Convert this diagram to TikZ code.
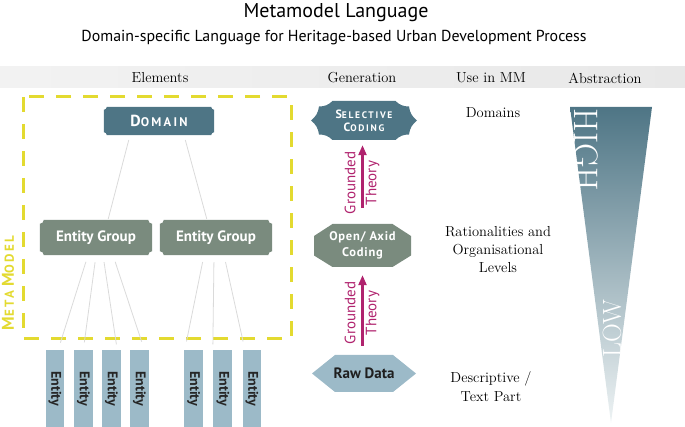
\documentclass[tikz,border=0pt]{standalone}
\usepackage{fontspec}
\newfontfamily\sansf{PT Sans}
\newfontfamily\sansls[LetterSpace=6]{PT Sans}
\newfontfamily\sanswide[LetterSpace=18]{PT Sans}
\usetikzlibrary{arrows.meta}
\definecolor{mmteal}{HTML}{4E7585}
\definecolor{mmgreen}{HTML}{7A8B7E}
\definecolor{mmblue}{HTML}{9CBAC8}
\definecolor{mmyellow}{HTML}{E3DA30}
\definecolor{mmmag}{HTML}{B0236E}
\definecolor{mmline}{HTML}{DADADA}
\definecolor{mmpale}{HTML}{EEF3F4}
\pgfdeclarelayer{background}
\pgfsetlayers{background,main}
\newcommand\fs[1]{\fontsize{#1}{#1}\selectfont}
\newcommand\notchfill[3]{%
  \begin{pgfonlayer}{background}
  \fill[#2] ([yshift=#3]#1.south west) arc[start angle=90,end angle=0,radius=#3]
    -- ([xshift=-#3]#1.south east) arc[start angle=180,end angle=90,radius=#3]
    -- ([yshift=-#3]#1.north east) arc[start angle=270,end angle=180,radius=#3]
    -- ([xshift=#3]#1.north west) arc[start angle=0,end angle=-90,radius=#3] -- cycle;
  \end{pgfonlayer}}
\tikzset{
  hdr/.style={font=\fs{14.5}},
  usetxt/.style={align=center, font=\fontsize{14.5}{18}\selectfont},
  egbox/.style={minimum width=112pt, minimum height=35pt, inner sep=0pt, text=white, font=\sansf\bfseries\fs{15}},
  entity/.style={rotate=-90, minimum width=76.5pt, minimum height=18.7pt, inner sep=0pt, fill=mmblue, text=black!85, font=\sansf\bfseries\fs{14}},
  tree/.style={draw=mmline, line width=0.8pt},
  gen/.style={-{Triangle[length=10pt,width=8pt]}, line width=2.2pt, draw=mmmag},
  glabel/.style={rotate=90, align=center, text=mmmag, font=\sansf\fontsize{15}{21}\selectfont},
}
\begin{document}
\begin{tikzpicture}[x=1pt,y=1pt]
\useasboundingbox (0,0) rectangle (685,427);
% titles
\node[font=\sansf\fs{20}] (title) at (336,414) {Metamodel Language};
\node[font=\sansf\fs{15.9}] (sub) at (334,389) {Domain-specific Language for Heritage-based Urban Development Process};
% header band
\fill[left color=black!5, right color=black!9] (0,339) rectangle (685,360);
\node[hdr] (h1) at (160,349) {Elements};
\node[hdr] (h2) at (362,349) {Generation};
\node[hdr] (h3) at (491,349) {Use in MM};
\node[hdr] (h4) at (605,349) {Abstraction};
% meta model frame
\draw[mmyellow, line width=3pt, dash pattern=on 15pt off 12pt] (23,330) rectangle (291,88);
\node[rotate=90, text=mmyellow, font=\sanswide\bfseries] (mm) at (8,144)
  {{\fs{17}M}{\fs{13}ETA} {\fs{17}M}{\fs{13}ODEL}};
% domain
\node[minimum width=110pt, minimum height=28pt, inner sep=0pt, text=white, font=\sanswide\bfseries] (dom) at (159,306)
  {{\fs{16}D}{\fs{12.5}OMAIN}};
\notchfill{dom}{mmteal}{3pt}
% entity groups
\node[egbox] (eg1) at (96,189.5) {Entity Group};
\node[egbox] (eg2) at (216,189.5) {Entity Group};
\notchfill{eg1}{mmgreen}{4pt}
\notchfill{eg2}{mmgreen}{4pt}
\draw[tree, shorten <=5pt, shorten >=1pt] ([xshift=-29pt]dom.south) -- ([xshift=12pt]eg1.north);
\draw[tree, shorten <=5pt, shorten >=1pt] ([xshift=25pt]dom.south) -- ([xshift=-9pt]eg2.north);
% entities
\node[entity] (e1) at (55,38.25) {Entity};
\node[entity] (e2) at (83.3,38.25) {Entity};
\node[entity] (e3) at (111.3,38.25) {Entity};
\node[entity] (e4) at (139.5,38.25) {Entity};
\node[entity] (e5) at (193.7,38.25) {Entity};
\node[entity] (e6) at (222.8,38.25) {Entity};
\node[entity] (e7) at (252,38.25) {Entity};
\draw[tree, shorten <=7pt, shorten >=8pt] ([xshift=-8pt]eg1.south) -- ([xshift=3pt]e1.west);
\draw[tree, shorten <=7pt, shorten >=8pt] ([xshift=0pt]eg1.south) -- ([xshift=0pt]e2.west);
\draw[tree, shorten <=7pt, shorten >=6pt] ([xshift=7pt]eg1.south) -- ([xshift=6pt]e3.west);
\draw[tree, shorten <=7pt, shorten >=9pt] ([xshift=17pt]eg1.south) -- ([xshift=5pt]e4.west);
\draw[tree, shorten <=7pt, shorten >=9pt] ([xshift=-12pt]eg2.south) -- ([xshift=-9pt]e5.west);
\draw[tree, shorten <=7pt, shorten >=6pt] ([xshift=-2pt]eg2.south) -- ([xshift=-10pt]e6.west);
\draw[tree, shorten <=7pt, shorten >=9pt] ([xshift=8pt]eg2.south) -- ([xshift=-7pt]e7.west);
% generation column
\node[minimum width=106pt, minimum height=39pt, inner sep=0pt, align=center, text=white,
      font=\sanswide\bfseries\fontsize{12}{13}\selectfont] (sc) at (364,306.5)
  {{\fs{12}S}{\fs{9.5}ELECTIVE}\\{\fs{12}C}{\fs{9.5}ODING}};
\begin{pgfonlayer}{background}
\begin{scope}[shift={(sc.center)}]
\fill[mmteal] (31.5,19.5) -- (-31.5,19.5) to[bend left=22] (-45,14) to[bend left=22] (-53,0)
  to[bend left=22] (-45,-14) to[bend left=22] (-31.5,-19.5) -- (31.5,-19.5) to[bend left=22] (45,-14)
  to[bend left=22] (53,0) to[bend left=22] (45,14) to[bend left=22] cycle;
\end{scope}
\end{pgfonlayer}
\node[minimum width=97pt, minimum height=43pt, inner sep=0pt, align=center, text=white,
      font=\sansls\bfseries\fontsize{12.5}{16}\selectfont] (oac) at (362.5,181.5) {Open/ Axid\\Coding};
\begin{pgfonlayer}{background}
\begin{scope}[shift={(oac.center)}]
\fill[mmgreen] (30,21.5) -- (-30,21.5) -- (-48.5,9.5) -- (-48.5,-10) -- (-30,-21.5)
  -- (30,-21.5) -- (48.5,-10) -- (48.5,9.5) -- cycle;
\end{scope}
\end{pgfonlayer}
\node[minimum width=104pt, minimum height=37pt, inner sep=0pt, text=black!88,
      font=\sansf\bfseries\fs{15}] (raw) at (364,53.5) {Raw Data};
\begin{pgfonlayer}{background}
\begin{scope}[shift={(raw.center)}]
\fill[mmblue] (-52,0) -- (-29,18.5) -- (29,18.5) -- (52,0) -- (29,-18.5) -- (-29,-18.5) -- cycle;
\end{scope}
\end{pgfonlayer}
\draw[gen, shorten <=16pt, shorten >=5pt] (oac.north) -- (oac.north |- sc.south);
\draw[gen, shorten <=9pt, shorten >=8pt] (raw.north -| oac.south) -- (oac.south);
\node[glabel] (gt1) at (362,244) {Grounded\\Theory};
\node[glabel] (gt2) at (362,114) {Grounded\\Theory};
% use in MM
\node[usetxt] (u1) at (493,314) {Domains};
\node[usetxt] (u2) at (498,177) {Rationalities and\\Organisational\\Levels};
\node[usetxt, font=\fontsize{14.5}{19}\selectfont] (u3) at (491,40) {Descriptive /\\Text Part};
% abstraction
\shade[top color=mmteal, middle color=mmgreen, bottom color=mmpale] (570,320) -- (652,320) -- (611,4) -- cycle;
\node[rotate=-90, text=white, font=\fs{34}] (hi) at (586,277) {HIGH};
\node[rotate=90, text=white, font=\fs{26}] (lo) at (612,98) {LOW};
\end{tikzpicture}
\end{document}
